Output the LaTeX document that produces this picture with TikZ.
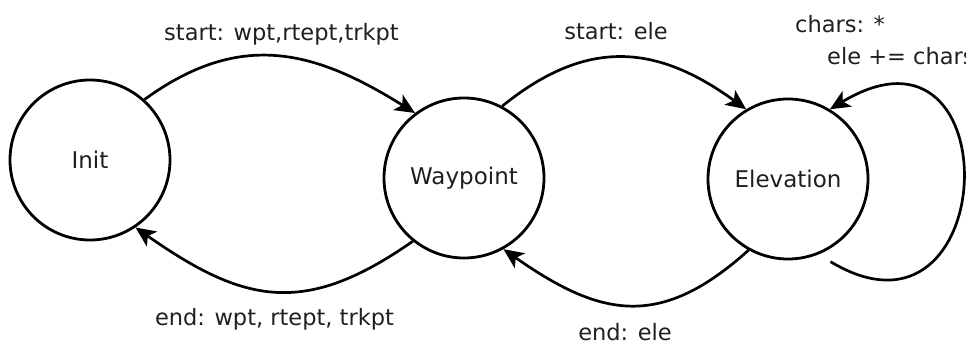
\documentclass[tikz,border=0pt]{standalone}
\usepackage{fontspec}
\setmainfont{DejaVu Sans}
\usetikzlibrary{arrows.meta}
\begin{document}
\begin{tikzpicture}[x=1pt,y=1pt,
  state/.style={circle, draw, line width=2.8pt, minimum size=160pt, inner sep=0pt,
                font=\fontsize{23}{27}\selectfont, text=black!88},
  lbl/.style={font=\fontsize{22.5}{27}\selectfont, text=black!88, inner sep=0pt},
  trans/.style={line width=2.7pt, -{Stealth[length=20pt,width=18pt,inset=5pt]}},
]
\useasboundingbox (0,0) rectangle (966,-345);
\clip (0,0) rectangle (966,-345);

\node[state] (init) at (90,-160) {Init};
\node[state] (wp)   at (464,-178) {Waypoint};
\node[state] (elev) at (788,-179) {Elevation};

\draw[trans] (init.48) to[out=36, in=148, looseness=1.12] (wp.127);
\draw[trans] (wp.231) to[out=215, in=-35, looseness=1.22] (init.304);
\draw[trans] (wp.62) to[out=39, in=144, looseness=1.15] (elev.121);
\draw[trans] (elev.241) to[out=222, in=-35, looseness=1.24] (wp.299);
\draw[trans, shorten <=14pt] (elev.292) to[out=-31, in=31, looseness=3.75] (elev.59);

\node[lbl, anchor=base] (l1) at (281.5,-41) {start: wpt,rtept,trkpt};
\node[lbl, anchor=base] (l2) at (274.5,-325) {end: wpt, rtept, trkpt};
\node[lbl, anchor=base] (l3) at (616,-39.5) {start: ele};
\node[lbl, anchor=base] (l4) at (625,-340) {end: ele};
\node[lbl, anchor=base west] (l5) at (795,-33) {chars: *};
\node[lbl, anchor=base west] (l6) at (827,-65) {ele += chars};
\end{tikzpicture}
\end{document}
